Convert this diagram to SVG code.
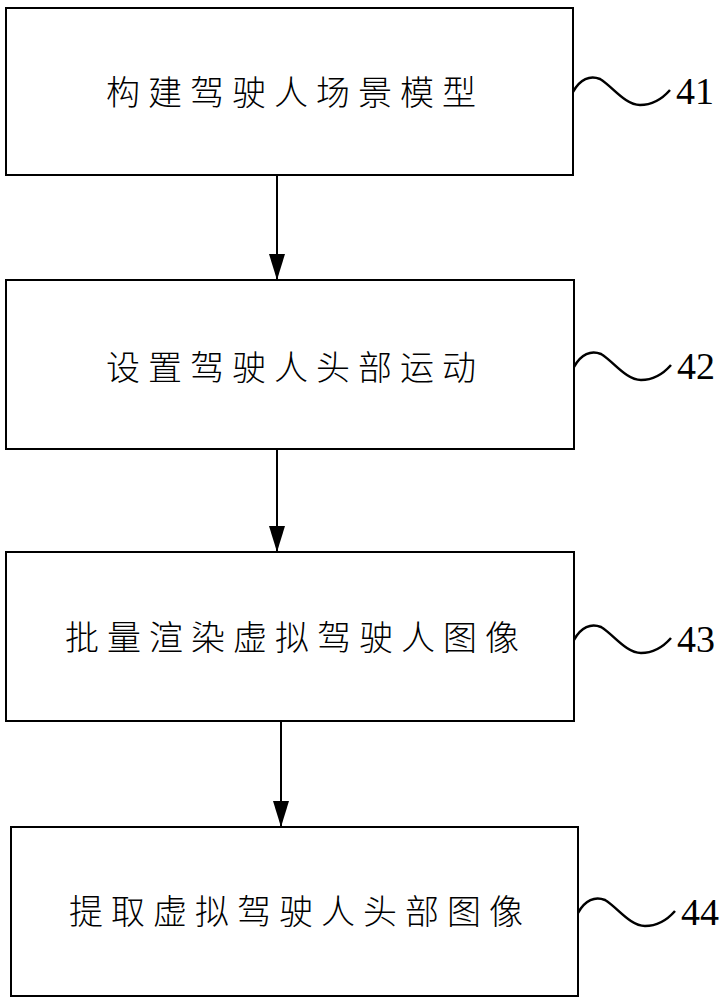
<svg xmlns="http://www.w3.org/2000/svg" width="726" height="1000" viewBox="0 0 726 1000">
<defs>
<style>
.box{fill:#fff;stroke:#000;stroke-width:2}
.t{font-family:"Liberation Serif","Noto Sans CJK SC",serif;font-size:34px;font-weight:300;letter-spacing:8px;fill:#000;dominant-baseline:central}
.lbl{font-family:"Liberation Serif",serif;font-size:38px;fill:#000}
.sq{fill:none;stroke:#000;stroke-width:2.5}
.con{stroke:#000;stroke-width:2;fill:none}
</style>
<marker id="ah" markerWidth="26" markerHeight="16" refX="26" refY="8" orient="auto" markerUnits="userSpaceOnUse" viewBox="0 0 26 16">
<path d="M0,0 L26,8 L0,16 Z" fill="#000"/>
</marker>
</defs>
<rect width="726" height="1000" fill="#fff"/>
<g id="connectors">
<line class="con" x1="277" y1="175" x2="277" y2="280" marker-end="url(#ah)"/>
<line class="con" x1="277" y1="449" x2="277" y2="552" marker-end="url(#ah)"/>
<line class="con" x1="281" y1="721" x2="281" y2="827" marker-end="url(#ah)"/>
</g>
<g id="n41">
<rect class="box" x="6" y="8" width="567" height="167"/>
<text class="t" x="106" y="93">构建驾驶人场景模型</text>
<path class="sq" d="M573,92 C580,79 590,75 600,79 C612,86 625,105 640,105 C653,105 663,98 670,90"/>
<text class="lbl" x="676" y="104">41</text>
</g>
<g id="n42">
<rect class="box" x="6" y="280" width="568" height="169"/>
<text class="t" x="106" y="368">设置驾驶人头部运动</text>
<path class="sq" d="M574,367 C581,354 591,350 601,354 C613,361 626,380 641,380 C654,380 664,373 671,365"/>
<text class="lbl" x="677" y="379">42</text>
</g>
<g id="n43">
<rect class="box" x="6" y="552" width="568" height="169"/>
<text class="t" x="65" y="638">批量渲染虚拟驾驶人图像</text>
<path class="sq" d="M574,640 C581,627 591,623 601,627 C613,634 626,653 641,653 C654,653 664,646 671,638"/>
<text class="lbl" x="677" y="652">43</text>
</g>
<g id="n44">
<rect class="box" x="11" y="827" width="567" height="169"/>
<text class="t" x="69" y="912">提取虚拟驾驶人头部图像</text>
<path class="sq" d="M578,913 C585,900 595,896 605,900 C617,907 630,926 645,926 C658,926 668,919 675,911"/>
<text class="lbl" x="681" y="925">44</text>
</g>
</svg>
